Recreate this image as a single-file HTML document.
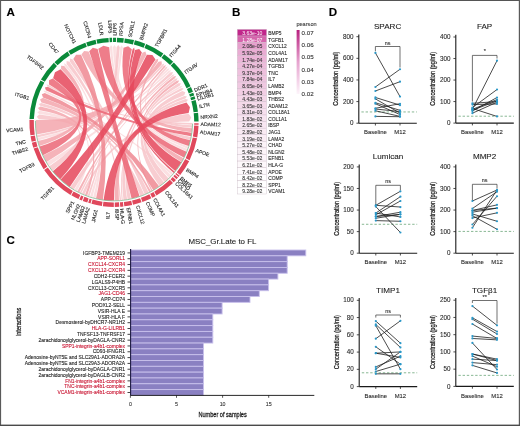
<!DOCTYPE html>
<html><head><meta charset="utf-8"><style>
html,body{margin:0;padding:0;background:#fff;}
#wrap{position:relative;width:520px;height:426px;overflow:hidden;}
svg{position:absolute;left:0;top:0;font-family:"Liberation Sans", sans-serif;filter:blur(0.3px);}
</style></head><body><div id="wrap">
<svg width="520" height="426" viewBox="0 0 520 426">
<rect x="0" y="0" width="520" height="426" fill="#fff"/>
<g font-weight="bold" font-size="11.6" fill="#000">
<text x="6.4" y="15.8" stroke="#000" stroke-width="0.1">A</text><text x="232" y="15.8" stroke="#000" stroke-width="0.1">B</text><text x="6.6" y="243.8" stroke="#000" stroke-width="0.1">C</text><text x="328.8" y="15.8" stroke="#000" stroke-width="0.1">D</text></g>
<g>
<path d="M48.90,165.80 A78.3,78.3 0 0 1 46.71,162.33 Q114.0,122.3 168.75,70.75 L171.01,69.95 L170.02,72.13 Q114.0,122.3 48.90,165.80 Z" fill="#fadadd" fill-opacity="0.85"/><path d="M187.58,149.08 A78.3,78.3 0 0 1 186.75,151.26 Q114.0,122.3 109.87,47.21 L111.03,44.96 L112.36,47.12 Q114.0,122.3 187.58,149.08 Z" fill="#fadadd" fill-opacity="0.85"/><path d="M188.49,146.43 A78.3,78.3 0 0 1 187.74,148.63 Q114.0,122.3 113.02,47.11 L114.47,44.90 L115.90,47.12 Q114.0,122.3 188.49,146.43 Z" fill="#fadadd" fill-opacity="0.85"/><path d="M173.32,173.41 A78.3,78.3 0 0 1 171.87,175.05 Q114.0,122.3 44.97,92.47 L43.35,90.68 L45.76,90.70 Q114.0,122.3 173.32,173.41 Z" fill="#fadadd" fill-opacity="0.85"/><path d="M171.40,175.55 A78.3,78.3 0 0 1 169.12,177.91 Q114.0,122.3 179.96,86.18 L182.34,85.97 L180.83,87.83 Q114.0,122.3 171.40,175.55 Z" fill="#fadadd" fill-opacity="0.85"/><path d="M95.55,198.40 A78.3,78.3 0 0 1 93.01,197.73 Q114.0,122.3 64.57,65.63 L63.96,63.25 L66.22,64.23 Q114.0,122.3 95.55,198.40 Z" fill="#fadadd" fill-opacity="0.85"/><path d="M92.35,197.55 A78.3,78.3 0 0 1 90.00,196.83 Q114.0,122.3 120.26,47.36 L121.77,45.29 L122.84,47.62 Q114.0,122.3 92.35,197.55 Z" fill="#fadadd" fill-opacity="0.85"/><path d="M76.87,191.24 A78.3,78.3 0 0 1 74.44,189.87 Q114.0,122.3 39.25,114.04 L37.27,112.14 L39.68,110.83 Q114.0,122.3 76.87,191.24 Z" fill="#fadadd" fill-opacity="0.85"/><path d="M37.82,140.38 A78.3,78.3 0 0 1 37.29,138.01 Q114.0,122.3 167.13,69.08 L169.36,68.21 L168.44,70.42 Q114.0,122.3 37.82,140.38 Z" fill="#fadadd" fill-opacity="0.85"/><path d="M52.53,170.80 A78.3,78.3 0 0 1 49.28,166.37 Q114.0,122.3 38.86,119.35 L36.80,116.76 L39.21,114.50 Q114.0,122.3 52.53,170.80 Z" fill="#f7c4c9" fill-opacity="0.85"/><path d="M73.85,189.52 A78.3,78.3 0 0 1 70.14,187.16 Q114.0,122.3 170.32,72.47 L172.92,72.10 L172.14,74.61 Q114.0,122.3 73.85,189.52 Z" fill="#f7c4c9" fill-opacity="0.85"/><path d="M190.90,137.04 A78.3,78.3 0 0 1 190.30,139.89 Q114.0,122.3 181.04,88.24 L183.54,88.32 L182.07,90.34 Q114.0,122.3 190.90,137.04 Z" fill="#f7c4c9" fill-opacity="0.85"/><path d="M192.24,125.37 A78.3,78.3 0 0 1 192.11,127.75 Q114.0,122.3 165.43,67.44 L167.57,66.44 L166.66,68.62 Q114.0,122.3 192.24,125.37 Z" fill="#f7c4c9" fill-opacity="0.85"/><path d="M192.30,123.05 A78.3,78.3 0 0 1 192.26,124.69 Q114.0,122.3 47.92,86.40 L46.39,84.62 L48.71,84.98 Q114.0,122.3 192.30,123.05 Z" fill="#f7c4c9" fill-opacity="0.85"/><path d="M164.17,182.41 A78.3,78.3 0 0 1 159.43,186.07 Q114.0,122.3 178.20,83.15 L180.88,83.35 L179.73,85.78 Q114.0,122.3 164.17,182.41 Z" fill="#f7c4c9" fill-opacity="0.85"/><path d="M168.64,178.39 A78.3,78.3 0 0 1 164.54,182.11 Q114.0,122.3 182.35,90.94 L185.33,92.24 L184.18,95.29 Q114.0,122.3 168.64,178.39 Z" fill="#f7c4c9" fill-opacity="0.85"/><path d="M148.63,192.53 A78.3,78.3 0 0 1 144.69,194.34 Q114.0,122.3 69.80,61.46 L70.02,58.61 L72.77,59.41 Q114.0,122.3 148.63,192.53 Z" fill="#f7c4c9" fill-opacity="0.85"/><path d="M144.25,194.52 A78.3,78.3 0 0 1 140.20,196.09 Q114.0,122.3 40.57,106.10 L38.79,104.00 L41.33,102.95 Q114.0,122.3 144.25,194.52 Z" fill="#f7c4c9" fill-opacity="0.85"/><path d="M130.88,198.76 A78.3,78.3 0 0 1 127.63,199.40 Q114.0,122.3 184.41,95.90 L186.96,96.46 L185.33,98.50 Q114.0,122.3 130.88,198.76 Z" fill="#f7c4c9" fill-opacity="0.85"/><path d="M127.16,199.49 A78.3,78.3 0 0 1 123.47,200.02 Q114.0,122.3 175.25,78.67 L177.67,78.28 L176.45,80.41 Q114.0,122.3 127.16,199.49 Z" fill="#f7c4c9" fill-opacity="0.85"/><path d="M122.80,200.10 A78.3,78.3 0 0 1 121.62,200.23 Q114.0,122.3 185.54,99.12 L188.06,99.80 L186.34,101.76 Q114.0,122.3 122.80,200.10 Z" fill="#f7c4c9" fill-opacity="0.85"/><path d="M121.14,200.27 A78.3,78.3 0 0 1 119.67,200.39 Q114.0,122.3 66.57,63.94 L66.64,61.08 L69.43,61.73 Q114.0,122.3 121.14,200.27 Z" fill="#f7c4c9" fill-opacity="0.85"/><path d="M89.35,196.62 A78.3,78.3 0 0 1 87.56,196.00 Q114.0,122.3 116.56,47.14 L118.30,45.02 L119.80,47.32 Q114.0,122.3 89.35,196.62 Z" fill="#f7c4c9" fill-opacity="0.85"/><path d="M84.35,194.77 A78.3,78.3 0 0 1 81.84,193.69 Q114.0,122.3 188.71,113.72 L191.25,117.51 L189.20,121.58 Q114.0,122.3 84.35,194.77 Z" fill="#f7c4c9" fill-opacity="0.85"/><path d="M81.22,193.41 A78.3,78.3 0 0 1 79.71,192.69 Q114.0,122.3 172.43,74.96 L174.59,74.14 L173.31,76.06 Q114.0,122.3 81.22,193.41 Z" fill="#f7c4c9" fill-opacity="0.85"/><path d="M37.20,137.54 A78.3,78.3 0 0 1 36.76,135.16 Q114.0,122.3 162.19,64.57 L164.27,63.44 L163.48,65.68 Q114.0,122.3 37.20,137.54 Z" fill="#f7c4c9" fill-opacity="0.85"/><path d="M46.47,161.92 A78.3,78.3 0 0 1 43.12,155.58 Q114.0,122.3 142.47,52.70 L145.37,51.54 L146.46,54.46 Q114.0,122.3 46.47,161.92 Z" fill="#f3a6ad" fill-opacity="0.85"/><path d="M183.61,158.15 A78.3,78.3 0 0 1 181.55,161.90 Q114.0,122.3 155.89,59.85 L158.18,58.74 L157.94,61.27 Q114.0,122.3 183.61,158.15 Z" fill="#f3a6ad" fill-opacity="0.85"/><path d="M192.08,128.23 A78.3,78.3 0 0 1 191.65,132.37 Q114.0,122.3 81.44,54.51 L84.13,50.90 L88.59,51.52 Q114.0,122.3 192.08,128.23 Z" fill="#f3a6ad" fill-opacity="0.85"/><path d="M151.02,191.29 A78.3,78.3 0 0 1 149.24,192.22 Q114.0,122.3 41.45,102.51 L40.03,99.53 L42.88,97.86 Q114.0,122.3 151.02,191.29 Z" fill="#f3a6ad" fill-opacity="0.85"/><path d="M152.62,190.42 A78.3,78.3 0 0 1 151.45,191.07 Q114.0,122.3 176.70,80.79 L179.19,80.58 L177.96,82.76 Q114.0,122.3 152.62,190.42 Z" fill="#f3a6ad" fill-opacity="0.85"/><path d="M118.98,200.44 A78.3,78.3 0 0 1 114.61,200.60 Q114.0,122.3 173.59,76.43 L176.06,76.04 L174.98,78.30 Q114.0,122.3 118.98,200.44 Z" fill="#f3a6ad" fill-opacity="0.85"/><path d="M87.11,195.84 A78.3,78.3 0 0 1 84.99,195.03 Q114.0,122.3 39.75,110.37 L37.92,108.05 L40.47,106.55 Q114.0,122.3 87.11,195.84 Z" fill="#f3a6ad" fill-opacity="0.85"/><path d="M79.28,192.48 A78.3,78.3 0 0 1 77.29,191.46 Q114.0,122.3 163.83,65.98 L165.94,64.92 L165.09,67.12 Q114.0,122.3 79.28,192.48 Z" fill="#f3a6ad" fill-opacity="0.85"/><path d="M39.34,145.91 A78.3,78.3 0 0 1 37.98,141.04 Q114.0,122.3 61.06,68.89 L61.11,65.79 L64.22,65.94 Q114.0,122.3 39.34,145.91 Z" fill="#f3a6ad" fill-opacity="0.85"/><path d="M36.65,134.48 A78.3,78.3 0 0 1 35.74,119.91 Q114.0,122.3 158.47,61.66 L161.52,61.20 L161.83,64.27 Q114.0,122.3 36.65,134.48 Z" fill="#f3a6ad" fill-opacity="0.85"/><path d="M159.04,186.35 A78.3,78.3 0 0 1 153.21,190.08 Q114.0,122.3 43.03,97.43 L41.82,94.35 L44.79,92.89 Q114.0,122.3 159.04,186.35 Z" fill="#ef8892" fill-opacity="0.85"/><path d="M102.90,199.81 A78.3,78.3 0 0 1 96.02,198.51 Q114.0,122.3 73.32,59.05 L76.03,54.85 L81.03,54.71 Q114.0,122.3 102.90,199.81 Z" fill="#ef8892" fill-opacity="0.85"/><path d="M42.92,155.14 A78.3,78.3 0 0 1 39.55,146.56 Q114.0,122.3 49.04,84.42 L49.02,80.25 L52.82,78.57 Q114.0,122.3 42.92,155.14 Z" fill="#eb6676" fill-opacity="0.85"/><path d="M186.57,151.71 A78.3,78.3 0 0 1 183.92,157.54 Q114.0,122.3 98.30,48.76 L103.43,45.63 L109.21,47.25 Q114.0,122.3 186.57,151.71 Z" fill="#eb6676" fill-opacity="0.85"/><path d="M190.19,140.36 A78.3,78.3 0 0 1 188.64,145.97 Q114.0,122.3 123.49,47.70 L128.11,46.20 L131.87,49.26 Q114.0,122.3 190.19,140.36 Z" fill="#eb6676" fill-opacity="0.85"/><path d="M191.59,132.84 A78.3,78.3 0 0 1 191.03,136.37 Q114.0,122.3 45.96,90.28 L44.84,87.54 L47.70,86.80 Q114.0,122.3 191.59,132.84 Z" fill="#eb6676" fill-opacity="0.85"/><path d="M139.56,196.31 A78.3,78.3 0 0 1 131.55,198.61 Q114.0,122.3 89.21,51.30 L92.80,47.86 L97.66,48.90 Q114.0,122.3 139.56,196.31 Z" fill="#eb6676" fill-opacity="0.85"/><path d="M60.26,179.25 A78.3,78.3 0 0 1 52.82,171.17 Q114.0,122.3 53.09,78.20 L54.99,72.21 L60.59,69.36 Q114.0,122.3 60.26,179.25 Z" fill="#e5475b" fill-opacity="0.85"/><path d="M69.75,186.89 A78.3,78.3 0 0 1 60.61,179.57 Q114.0,122.3 146.87,54.66 L152.36,55.08 L155.51,59.59 Q114.0,122.3 69.75,186.89 Z" fill="#e5475b" fill-opacity="0.85"/><path d="M113.93,200.60 A78.3,78.3 0 0 1 103.58,199.90 Q114.0,122.3 186.52,102.39 L189.93,107.27 L188.63,113.07 Q114.0,122.3 113.93,200.60 Z" fill="#e5475b" fill-opacity="0.85"/><path d="M181.31,162.31 A78.3,78.3 0 0 1 175.24,171.10 Q114.0,122.3 135.04,50.10 L139.20,49.12 L141.87,52.45 Q114.0,122.3 181.31,162.31 Z" fill="#e5475b" fill-opacity="0.85"/><path d="M174.81,171.63 A78.3,78.3 0 0 1 173.76,172.89 Q114.0,122.3 132.51,49.41 L134.13,47.56 L134.60,49.98 Q114.0,122.3 174.81,171.63 Z" fill="#e5475b" fill-opacity="0.85"/>
<path d="M29.47,118.88 A84.6,84.6 0 0 1 40.50,80.41 L44.32,82.59 A80.2,80.2 0 0 0 33.87,119.05 Z" fill="#0a8a3a"/>
<path d="M40.97,79.59 A84.6,84.6 0 0 1 53.85,62.81 L56.97,65.91 A80.2,80.2 0 0 0 44.77,81.81 Z" fill="#0a8a3a"/>
<path d="M54.51,62.15 A84.6,84.6 0 0 1 67.53,51.61 L69.94,55.28 A80.2,80.2 0 0 0 57.61,65.27 Z" fill="#0a8a3a"/>
<path d="M68.32,51.09 A84.6,84.6 0 0 1 85.31,42.71 L86.81,46.85 A80.2,80.2 0 0 0 70.70,54.80 Z" fill="#0a8a3a"/>
<path d="M86.21,42.40 A84.6,84.6 0 0 1 95.52,39.74 L96.48,44.04 A80.2,80.2 0 0 0 87.65,46.55 Z" fill="#0a8a3a"/>
<path d="M96.44,39.54 A84.6,84.6 0 0 1 108.51,37.88 L108.80,42.27 A80.2,80.2 0 0 0 97.35,43.85 Z" fill="#0a8a3a"/>
<path d="M109.45,37.82 A84.6,84.6 0 0 1 112.05,37.72 L112.15,42.12 A80.2,80.2 0 0 0 109.69,42.22 Z" fill="#0a8a3a"/>
<path d="M113.00,37.71 A84.6,84.6 0 0 1 116.04,37.72 L115.93,42.12 A80.2,80.2 0 0 0 113.05,42.11 Z" fill="#0a8a3a"/>
<path d="M116.98,37.75 A84.6,84.6 0 0 1 123.84,38.27 L123.33,42.64 A80.2,80.2 0 0 0 116.83,42.15 Z" fill="#0a8a3a"/>
<path d="M124.78,38.39 A84.6,84.6 0 0 1 134.01,40.10 L132.97,44.38 A80.2,80.2 0 0 0 124.22,42.75 Z" fill="#0a8a3a"/>
<path d="M134.92,40.33 A84.6,84.6 0 0 1 145.25,43.68 L143.63,47.77 A80.2,80.2 0 0 0 133.84,44.59 Z" fill="#0a8a3a"/>
<path d="M146.13,44.04 A84.6,84.6 0 0 1 163.34,53.58 L160.78,57.15 A80.2,80.2 0 0 0 144.46,48.11 Z" fill="#0a8a3a"/>
<path d="M164.11,54.14 A84.6,84.6 0 0 1 173.17,61.83 L170.09,64.98 A80.2,80.2 0 0 0 161.50,57.68 Z" fill="#0a8a3a"/>
<path d="M173.84,62.50 A84.6,84.6 0 0 1 190.54,86.25 L186.56,88.13 A80.2,80.2 0 0 0 170.73,65.61 Z" fill="#0a8a3a"/>
<path d="M190.93,87.11 A84.6,84.6 0 0 1 192.92,91.82 L188.81,93.40 A80.2,80.2 0 0 0 186.93,88.94 Z" fill="#0a8a3a"/>
<path d="M193.25,92.70 A84.6,84.6 0 0 1 194.22,95.43 L190.05,96.83 A80.2,80.2 0 0 0 189.13,94.24 Z" fill="#0a8a3a"/>
<path d="M194.51,96.33 A84.6,84.6 0 0 1 195.36,99.09 L191.12,100.30 A80.2,80.2 0 0 0 190.33,97.68 Z" fill="#0a8a3a"/>
<path d="M195.61,100.00 A84.6,84.6 0 0 1 197.95,111.81 L193.58,112.36 A80.2,80.2 0 0 0 191.36,101.16 Z" fill="#0a8a3a"/>
<path d="M198.06,112.75 A84.6,84.6 0 0 1 198.60,121.38 L194.20,121.43 A80.2,80.2 0 0 0 193.69,113.25 Z" fill="#0a8a3a"/>
<path d="M198.60,123.22 A84.6,84.6 0 0 1 198.56,124.78 L194.17,124.65 A80.2,80.2 0 0 0 194.20,123.17 Z" fill="#e0485c"/>
<path d="M198.53,125.72 A84.6,84.6 0 0 1 197.24,137.40 L192.91,136.61 A80.2,80.2 0 0 0 194.13,125.55 Z" fill="#e0485c"/>
<path d="M197.07,138.33 A84.6,84.6 0 0 1 189.59,160.29 L185.66,158.31 A80.2,80.2 0 0 0 192.75,137.49 Z" fill="#e0485c"/>
<path d="M189.16,161.13 A84.6,84.6 0 0 1 180.23,174.94 L176.78,172.20 A80.2,80.2 0 0 0 185.25,159.11 Z" fill="#e0485c"/>
<path d="M179.63,175.68 A84.6,84.6 0 0 1 178.64,176.88 L175.27,174.04 A80.2,80.2 0 0 0 176.22,172.90 Z" fill="#e0485c"/>
<path d="M178.02,177.60 A84.6,84.6 0 0 1 176.59,179.22 L173.34,176.25 A80.2,80.2 0 0 0 174.69,174.73 Z" fill="#e0485c"/>
<path d="M175.95,179.91 A84.6,84.6 0 0 1 173.63,182.31 L170.53,179.19 A80.2,80.2 0 0 0 172.73,176.91 Z" fill="#e0485c"/>
<path d="M172.96,182.97 A84.6,84.6 0 0 1 156.45,195.48 L154.25,191.67 A80.2,80.2 0 0 0 169.89,179.82 Z" fill="#e0485c"/>
<path d="M155.63,195.95 A84.6,84.6 0 0 1 152.17,197.80 L150.19,193.87 A80.2,80.2 0 0 0 153.47,192.12 Z" fill="#e0485c"/>
<path d="M151.32,198.22 A84.6,84.6 0 0 1 142.41,201.99 L140.93,197.84 A80.2,80.2 0 0 0 149.38,194.27 Z" fill="#e0485c"/>
<path d="M141.52,202.30 A84.6,84.6 0 0 1 133.06,204.73 L132.07,200.44 A80.2,80.2 0 0 0 140.08,198.14 Z" fill="#e0485c"/>
<path d="M132.14,204.93 A84.6,84.6 0 0 1 124.34,206.27 L123.80,201.90 A80.2,80.2 0 0 0 131.19,200.64 Z" fill="#e0485c"/>
<path d="M123.40,206.38 A84.6,84.6 0 0 1 120.23,206.67 L119.90,202.28 A80.2,80.2 0 0 0 122.91,202.00 Z" fill="#e0485c"/>
<path d="M119.28,206.73 A84.6,84.6 0 0 1 114.77,206.90 L114.73,202.50 A80.2,80.2 0 0 0 119.01,202.34 Z" fill="#e0485c"/>
<path d="M113.82,206.90 A84.6,84.6 0 0 1 102.84,206.16 L103.42,201.80 A80.2,80.2 0 0 0 113.83,202.50 Z" fill="#e0485c"/>
<path d="M101.90,206.03 A84.6,84.6 0 0 1 91.42,203.83 L92.59,199.59 A80.2,80.2 0 0 0 102.53,201.68 Z" fill="#e0485c"/>
<path d="M90.51,203.57 A84.6,84.6 0 0 1 88.17,202.86 L89.51,198.67 A80.2,80.2 0 0 0 91.73,199.35 Z" fill="#e0485c"/>
<path d="M87.27,202.57 A84.6,84.6 0 0 1 82.75,200.92 L84.37,196.83 A80.2,80.2 0 0 0 88.66,198.39 Z" fill="#e0485c"/>
<path d="M81.87,200.56 A84.6,84.6 0 0 1 79.35,199.48 L81.15,195.46 A80.2,80.2 0 0 0 83.54,196.49 Z" fill="#e0485c"/>
<path d="M78.49,199.09 A84.6,84.6 0 0 1 71.34,195.36 L73.56,191.56 A80.2,80.2 0 0 0 80.33,195.09 Z" fill="#e0485c"/>
<path d="M70.53,194.88 A84.6,84.6 0 0 1 44.13,170.00 L47.76,167.52 A80.2,80.2 0 0 0 72.79,191.10 Z" fill="#e0485c"/>
<path d="M43.60,169.22 A84.6,84.6 0 0 1 33.60,148.61 L37.78,147.24 A80.2,80.2 0 0 0 47.26,166.78 Z" fill="#e0485c"/>
<path d="M33.31,147.71 A84.6,84.6 0 0 1 31.88,142.65 L36.16,141.59 A80.2,80.2 0 0 0 37.50,146.39 Z" fill="#e0485c"/>
<path d="M31.66,141.73 A84.6,84.6 0 0 1 30.57,136.29 L34.90,135.56 A80.2,80.2 0 0 0 35.94,140.72 Z" fill="#e0485c"/>
<path d="M30.41,135.36 A84.6,84.6 0 0 1 29.44,119.82 L33.83,119.95 A80.2,80.2 0 0 0 34.76,134.68 Z" fill="#e0485c"/>
<path d="M192.59,123.67 A78.60000000000001,78.60000000000001 0 0 1 35.41,120.93" fill="none" stroke="#3a9a5a" stroke-width="0.5"/>
<text x="29.31" y="98.02" transform="rotate(-344.0 29.31 98.02)" font-size="5.1" text-anchor="end" dominant-baseline="central" fill="#1a1a1a" stroke="#1a1a1a" stroke-width="0.1">ITGB1</text>
<text x="43.31" y="68.06" transform="rotate(-322.5 43.31 68.06)" font-size="5.1" text-anchor="end" dominant-baseline="central" fill="#1a1a1a" stroke="#1a1a1a" stroke-width="0.1">TGFBR2</text>
<text x="57.93" y="53.06" transform="rotate(-309.0 57.93 53.06)" font-size="5.1" text-anchor="end" dominant-baseline="central" fill="#1a1a1a" stroke="#1a1a1a" stroke-width="0.1">CD47</text>
<text x="75.03" y="43.29" transform="rotate(-296.2 75.03 43.29)" font-size="5.1" text-anchor="end" dominant-baseline="central" fill="#1a1a1a" stroke="#1a1a1a" stroke-width="0.1">NOTCH1</text>
<text x="89.95" y="37.86" transform="rotate(-285.9 89.95 37.86)" font-size="5.1" text-anchor="end" dominant-baseline="central" fill="#1a1a1a" stroke="#1a1a1a" stroke-width="0.1">CXCR4</text>
<text x="102.01" y="35.32" transform="rotate(-277.9 102.01 35.32)" font-size="5.1" text-anchor="end" dominant-baseline="central" fill="#1a1a1a" stroke="#1a1a1a" stroke-width="0.1">LDLR</text>
<text x="110.58" y="33.27" transform="rotate(-272.2 110.58 33.27)" font-size="5.1" text-anchor="end" dominant-baseline="central" fill="#1a1a1a" stroke="#1a1a1a" stroke-width="0.1">LRP5</text>
<text x="114.53" y="35.70" transform="rotate(-89.7 114.53 35.70)" font-size="5.1" dominant-baseline="central" fill="#1a1a1a" stroke="#1a1a1a" stroke-width="0.1">LRP6</text>
<text x="120.57" y="35.95" transform="rotate(-85.7 120.57 35.95)" font-size="5.1" dominant-baseline="central" fill="#1a1a1a" stroke="#1a1a1a" stroke-width="0.1">RPSA</text>
<text x="129.78" y="37.15" transform="rotate(-79.5 129.78 37.15)" font-size="5.1" dominant-baseline="central" fill="#1a1a1a" stroke="#1a1a1a" stroke-width="0.1">SORL1</text>
<text x="140.76" y="39.94" transform="rotate(-72.0 140.76 39.94)" font-size="5.1" dominant-baseline="central" fill="#1a1a1a" stroke="#1a1a1a" stroke-width="0.1">BMPR2</text>
<text x="155.98" y="46.56" transform="rotate(-61.0 155.98 46.56)" font-size="5.1" dominant-baseline="central" fill="#1a1a1a" stroke="#1a1a1a" stroke-width="0.1">TGFBR1</text>
<text x="170.07" y="56.30" transform="rotate(-49.6 170.07 56.30)" font-size="5.1" dominant-baseline="central" fill="#1a1a1a" stroke="#1a1a1a" stroke-width="0.1">ITGA4</text>
<text x="184.85" y="72.50" transform="rotate(-35.1 184.85 72.50)" font-size="5.1" dominant-baseline="central" fill="#1a1a1a" stroke="#1a1a1a" stroke-width="0.1">ITGAV</text>
<text x="194.38" y="90.07" transform="rotate(-21.9 194.38 90.07)" font-size="5.1" dominant-baseline="central" fill="#1a1a1a" stroke="#1a1a1a" stroke-width="0.1">DDR1</text>
<text x="196.22" y="95.11" transform="rotate(-18.3 196.22 95.11)" font-size="5.1" dominant-baseline="central" fill="#1a1a1a" stroke="#1a1a1a" stroke-width="0.1">EPHB4</text>
<text x="197.29" y="98.58" transform="rotate(-15.9 197.29 98.58)" font-size="5.1" dominant-baseline="central" fill="#1a1a1a" stroke="#1a1a1a" stroke-width="0.1">LILRB1</text>
<text x="199.09" y="106.22" transform="rotate(-10.7 199.09 106.22)" font-size="5.1" dominant-baseline="central" fill="#1a1a1a" stroke="#1a1a1a" stroke-width="0.1">IL7R</text>
<text x="200.43" y="116.94" transform="rotate(-3.5 200.43 116.94)" font-size="5.1" dominant-baseline="central" fill="#1a1a1a" stroke="#1a1a1a" stroke-width="0.1">NRXN2</text>
<text x="200.58" y="124.04" transform="rotate(1.1 200.58 124.04)" font-size="5.1" dominant-baseline="central" fill="#1a1a1a" stroke="#1a1a1a" stroke-width="0.1">ADAM12</text>
<text x="200.08" y="131.80" transform="rotate(6.3 200.08 131.80)" font-size="5.1" dominant-baseline="central" fill="#1a1a1a" stroke="#1a1a1a" stroke-width="0.1">ADAM17</text>
<text x="195.98" y="150.21" transform="rotate(18.8 195.98 150.21)" font-size="5.1" dominant-baseline="central" fill="#1a1a1a" stroke="#1a1a1a" stroke-width="0.1">APOE</text>
<text x="186.71" y="169.34" transform="rotate(32.9 186.71 169.34)" font-size="5.1" dominant-baseline="central" fill="#1a1a1a" stroke="#1a1a1a" stroke-width="0.1">BMP4</text>
<text x="180.68" y="177.56" transform="rotate(39.6 180.68 177.56)" font-size="5.1" dominant-baseline="central" fill="#1a1a1a" stroke="#1a1a1a" stroke-width="0.1">BMP5</text>
<text x="178.81" y="179.74" transform="rotate(41.5 178.81 179.74)" font-size="5.1" dominant-baseline="central" fill="#1a1a1a" stroke="#1a1a1a" stroke-width="0.1">CHAD</text>
<text x="176.24" y="182.51" transform="rotate(44.0 176.24 182.51)" font-size="5.1" dominant-baseline="central" fill="#1a1a1a" stroke="#1a1a1a" stroke-width="0.1">COL18A1</text>
<text x="166.30" y="191.33" transform="rotate(52.9 166.30 191.33)" font-size="5.1" dominant-baseline="central" fill="#1a1a1a" stroke="#1a1a1a" stroke-width="0.1">COL1A1</text>
<text x="154.86" y="198.66" transform="rotate(61.9 154.86 198.66)" font-size="5.1" dominant-baseline="central" fill="#1a1a1a" stroke="#1a1a1a" stroke-width="0.1">COL4A1</text>
<text x="147.70" y="202.07" transform="rotate(67.1 147.70 202.07)" font-size="5.1" dominant-baseline="central" fill="#1a1a1a" stroke="#1a1a1a" stroke-width="0.1">COMP</text>
<text x="137.87" y="205.55" transform="rotate(74.0 137.87 205.55)" font-size="5.1" dominant-baseline="central" fill="#1a1a1a" stroke="#1a1a1a" stroke-width="0.1">CXCL12</text>
<text x="128.59" y="207.66" transform="rotate(80.3 128.59 207.66)" font-size="5.1" dominant-baseline="central" fill="#1a1a1a" stroke="#1a1a1a" stroke-width="0.1">EFNB1</text>
<text x="122.00" y="208.53" transform="rotate(84.7 122.00 208.53)" font-size="5.1" dominant-baseline="central" fill="#1a1a1a" stroke="#1a1a1a" stroke-width="0.1">HLA-G</text>
<text x="117.10" y="208.84" transform="rotate(87.9 117.10 208.84)" font-size="5.1" dominant-baseline="central" fill="#1a1a1a" stroke="#1a1a1a" stroke-width="0.1">IBSP</text>
<text x="107.96" y="212.00" transform="rotate(-86.2 107.96 212.00)" font-size="5.1" text-anchor="end" dominant-baseline="central" fill="#1a1a1a" stroke="#1a1a1a" stroke-width="0.1">IL7</text>
<text x="95.70" y="209.50" transform="rotate(-78.2 95.70 209.50)" font-size="5.1" text-anchor="end" dominant-baseline="central" fill="#1a1a1a" stroke="#1a1a1a" stroke-width="0.1">JAG1</text>
<text x="88.02" y="207.53" transform="rotate(-73.1 88.02 207.53)" font-size="5.1" text-anchor="end" dominant-baseline="central" fill="#1a1a1a" stroke="#1a1a1a" stroke-width="0.1">LAMA2</text>
<text x="83.45" y="206.00" transform="rotate(-70.0 83.45 206.00)" font-size="5.1" text-anchor="end" dominant-baseline="central" fill="#1a1a1a" stroke="#1a1a1a" stroke-width="0.1">LAMB2</text>
<text x="78.83" y="204.16" transform="rotate(-66.8 78.83 204.16)" font-size="5.1" text-anchor="end" dominant-baseline="central" fill="#1a1a1a" stroke="#1a1a1a" stroke-width="0.1">NLGN2</text>
<text x="72.79" y="201.30" transform="rotate(-62.5 72.79 201.30)" font-size="5.1" text-anchor="end" dominant-baseline="central" fill="#1a1a1a" stroke="#1a1a1a" stroke-width="0.1">SPP1</text>
<text x="52.89" y="187.14" transform="rotate(-46.7 52.89 187.14)" font-size="5.1" text-anchor="end" dominant-baseline="central" fill="#1a1a1a" stroke="#1a1a1a" stroke-width="0.1">TGFB1</text>
<text x="34.19" y="163.67" transform="rotate(-27.4 34.19 163.67)" font-size="5.1" text-anchor="end" dominant-baseline="central" fill="#1a1a1a" stroke="#1a1a1a" stroke-width="0.1">TGFB3</text>
<text x="27.79" y="148.49" transform="rotate(-16.9 27.79 148.49)" font-size="5.1" text-anchor="end" dominant-baseline="central" fill="#1a1a1a" stroke="#1a1a1a" stroke-width="0.1">THBS2</text>
<text x="25.74" y="141.38" transform="rotate(-12.2 25.74 141.38)" font-size="5.1" text-anchor="end" dominant-baseline="central" fill="#1a1a1a" stroke="#1a1a1a" stroke-width="0.1">TNC</text>
<text x="23.54" y="128.94" transform="rotate(-4.2 23.54 128.94)" font-size="5.1" text-anchor="end" dominant-baseline="central" fill="#1a1a1a" stroke="#1a1a1a" stroke-width="0.1">VCAM1</text>
</g>
<rect x="237.3" y="29.40" width="29.30" height="6.58" fill="#c1268b" stroke="#cbbcc7" stroke-width="0.4"/>
<text x="262.3" y="35.29" font-size="5.1" text-anchor="end" fill="#fff">3.63e-10</text>
<text x="268.2" y="35.29" font-size="4.9" fill="#2a2a2a" stroke="#2a2a2a" stroke-width="0.1">BMP5</text>
<rect x="237.3" y="35.98" width="29.30" height="6.58" fill="#d565ac" stroke="#cbbcc7" stroke-width="0.4"/>
<text x="262.3" y="41.88" font-size="5.1" text-anchor="end" fill="#fff">1.28e-07</text>
<text x="268.2" y="41.88" font-size="4.9" fill="#2a2a2a" stroke="#2a2a2a" stroke-width="0.1">TGFB1</text>
<rect x="237.3" y="42.57" width="29.30" height="6.58" fill="#e6a0cd" stroke="#cbbcc7" stroke-width="0.4"/>
<text x="262.3" y="48.46" font-size="5.1" text-anchor="end" fill="#3a3a3a" stroke="#3a3a3a" stroke-width="0.1">2.08e-05</text>
<text x="268.2" y="48.46" font-size="4.9" fill="#2a2a2a" stroke="#2a2a2a" stroke-width="0.1">CXCL12</text>
<rect x="237.3" y="49.15" width="29.30" height="6.58" fill="#e9acd3" stroke="#cbbcc7" stroke-width="0.4"/>
<text x="262.3" y="55.04" font-size="5.1" text-anchor="end" fill="#3a3a3a" stroke="#3a3a3a" stroke-width="0.1">5.92e-05</text>
<text x="268.2" y="55.04" font-size="4.9" fill="#2a2a2a" stroke="#2a2a2a" stroke-width="0.1">COL4A1</text>
<rect x="237.3" y="55.74" width="29.30" height="6.58" fill="#ebb4d7" stroke="#cbbcc7" stroke-width="0.4"/>
<text x="262.3" y="61.63" font-size="5.1" text-anchor="end" fill="#3a3a3a" stroke="#3a3a3a" stroke-width="0.1">1.74e-04</text>
<text x="268.2" y="61.63" font-size="4.9" fill="#2a2a2a" stroke="#2a2a2a" stroke-width="0.1">ADAM17</text>
<rect x="237.3" y="62.32" width="29.30" height="6.58" fill="#edbcdb" stroke="#cbbcc7" stroke-width="0.4"/>
<text x="262.3" y="68.21" font-size="5.1" text-anchor="end" fill="#3a3a3a" stroke="#3a3a3a" stroke-width="0.1">4.27e-04</text>
<text x="268.2" y="68.21" font-size="4.9" fill="#2a2a2a" stroke="#2a2a2a" stroke-width="0.1">TGFB3</text>
<rect x="237.3" y="68.90" width="29.30" height="6.58" fill="#eec0dd" stroke="#cbbcc7" stroke-width="0.4"/>
<text x="262.3" y="74.80" font-size="5.1" text-anchor="end" fill="#3a3a3a" stroke="#3a3a3a" stroke-width="0.1">9.37e-04</text>
<text x="268.2" y="74.80" font-size="4.9" fill="#2a2a2a" stroke="#2a2a2a" stroke-width="0.1">TNC</text>
<rect x="237.3" y="75.49" width="29.30" height="6.58" fill="#efc4df" stroke="#cbbcc7" stroke-width="0.4"/>
<text x="262.3" y="81.38" font-size="5.1" text-anchor="end" fill="#3a3a3a" stroke="#3a3a3a" stroke-width="0.1">7.84e-04</text>
<text x="268.2" y="81.38" font-size="4.9" fill="#2a2a2a" stroke="#2a2a2a" stroke-width="0.1">IL7</text>
<rect x="237.3" y="82.07" width="29.30" height="6.58" fill="#f0c8e1" stroke="#cbbcc7" stroke-width="0.4"/>
<text x="262.3" y="87.96" font-size="5.1" text-anchor="end" fill="#3a3a3a" stroke="#3a3a3a" stroke-width="0.1">8.65e-04</text>
<text x="268.2" y="87.96" font-size="4.9" fill="#2a2a2a" stroke="#2a2a2a" stroke-width="0.1">LAMB2</text>
<rect x="237.3" y="88.66" width="29.30" height="6.58" fill="#f2cee4" stroke="#cbbcc7" stroke-width="0.4"/>
<text x="262.3" y="94.55" font-size="5.1" text-anchor="end" fill="#3a3a3a" stroke="#3a3a3a" stroke-width="0.1">1.43e-03</text>
<text x="268.2" y="94.55" font-size="4.9" fill="#2a2a2a" stroke="#2a2a2a" stroke-width="0.1">BMP4</text>
<rect x="237.3" y="95.24" width="29.30" height="6.58" fill="#f4d6e8" stroke="#cbbcc7" stroke-width="0.4"/>
<text x="262.3" y="101.13" font-size="5.1" text-anchor="end" fill="#3a3a3a" stroke="#3a3a3a" stroke-width="0.1">4.43e-03</text>
<text x="268.2" y="101.13" font-size="4.9" fill="#2a2a2a" stroke="#2a2a2a" stroke-width="0.1">THBS2</text>
<rect x="237.3" y="101.82" width="29.30" height="6.58" fill="#f5daea" stroke="#cbbcc7" stroke-width="0.4"/>
<text x="262.3" y="107.72" font-size="5.1" text-anchor="end" fill="#3a3a3a" stroke="#3a3a3a" stroke-width="0.1">3.65e-03</text>
<text x="268.2" y="107.72" font-size="4.9" fill="#2a2a2a" stroke="#2a2a2a" stroke-width="0.1">ADAM12</text>
<rect x="237.3" y="108.41" width="29.30" height="6.58" fill="#f6dfee" stroke="#cbbcc7" stroke-width="0.4"/>
<text x="262.3" y="114.30" font-size="5.1" text-anchor="end" fill="#3a3a3a" stroke="#3a3a3a" stroke-width="0.1">8.31e-03</text>
<text x="268.2" y="114.30" font-size="4.9" fill="#2a2a2a" stroke="#2a2a2a" stroke-width="0.1">COL18A1</text>
<rect x="237.3" y="114.99" width="29.30" height="6.58" fill="#f7e4f0" stroke="#cbbcc7" stroke-width="0.4"/>
<text x="262.3" y="120.88" font-size="5.1" text-anchor="end" fill="#3a3a3a" stroke="#3a3a3a" stroke-width="0.1">1.83e-02</text>
<text x="268.2" y="120.88" font-size="4.9" fill="#2a2a2a" stroke="#2a2a2a" stroke-width="0.1">COL1A1</text>
<rect x="237.3" y="121.58" width="29.30" height="6.58" fill="#f8e7f2" stroke="#cbbcc7" stroke-width="0.4"/>
<text x="262.3" y="127.47" font-size="5.1" text-anchor="end" fill="#3a3a3a" stroke="#3a3a3a" stroke-width="0.1">2.65e-02</text>
<text x="268.2" y="127.47" font-size="4.9" fill="#2a2a2a" stroke="#2a2a2a" stroke-width="0.1">IBSP</text>
<rect x="237.3" y="128.16" width="29.30" height="6.58" fill="#f9eaf3" stroke="#cbbcc7" stroke-width="0.4"/>
<text x="262.3" y="134.05" font-size="5.1" text-anchor="end" fill="#3a3a3a" stroke="#3a3a3a" stroke-width="0.1">2.89e-02</text>
<text x="268.2" y="134.05" font-size="4.9" fill="#2a2a2a" stroke="#2a2a2a" stroke-width="0.1">JAG1</text>
<rect x="237.3" y="134.74" width="29.30" height="6.58" fill="#faedf5" stroke="#cbbcc7" stroke-width="0.4"/>
<text x="262.3" y="140.64" font-size="5.1" text-anchor="end" fill="#3a3a3a" stroke="#3a3a3a" stroke-width="0.1">3.19e-02</text>
<text x="268.2" y="140.64" font-size="4.9" fill="#2a2a2a" stroke="#2a2a2a" stroke-width="0.1">LAMA2</text>
<rect x="237.3" y="141.33" width="29.30" height="6.58" fill="#fbf3f8" stroke="#cbbcc7" stroke-width="0.4"/>
<text x="262.3" y="147.22" font-size="5.1" text-anchor="end" fill="#3a3a3a" stroke="#3a3a3a" stroke-width="0.1">5.27e-02</text>
<text x="268.2" y="147.22" font-size="4.9" fill="#2a2a2a" stroke="#2a2a2a" stroke-width="0.1">CHAD</text>
<rect x="237.3" y="147.91" width="29.30" height="6.58" fill="#fcf4f9" stroke="#cbbcc7" stroke-width="0.4"/>
<text x="262.3" y="153.80" font-size="5.1" text-anchor="end" fill="#3a3a3a" stroke="#3a3a3a" stroke-width="0.1">5.48e-02</text>
<text x="268.2" y="153.80" font-size="4.9" fill="#2a2a2a" stroke="#2a2a2a" stroke-width="0.1">NLGN2</text>
<rect x="237.3" y="154.50" width="29.30" height="6.58" fill="#fcf5fa" stroke="#cbbcc7" stroke-width="0.4"/>
<text x="262.3" y="160.39" font-size="5.1" text-anchor="end" fill="#3a3a3a" stroke="#3a3a3a" stroke-width="0.1">5.53e-02</text>
<text x="268.2" y="160.39" font-size="4.9" fill="#2a2a2a" stroke="#2a2a2a" stroke-width="0.1">EFNB1</text>
<rect x="237.3" y="161.08" width="29.30" height="6.58" fill="#fdf8fb" stroke="#cbbcc7" stroke-width="0.4"/>
<text x="262.3" y="166.97" font-size="5.1" text-anchor="end" fill="#3a3a3a" stroke="#3a3a3a" stroke-width="0.1">6.21e-02</text>
<text x="268.2" y="166.97" font-size="4.9" fill="#2a2a2a" stroke="#2a2a2a" stroke-width="0.1">HLA-G</text>
<rect x="237.3" y="167.66" width="29.30" height="6.58" fill="#fefbfd" stroke="#cbbcc7" stroke-width="0.4"/>
<text x="262.3" y="173.56" font-size="5.1" text-anchor="end" fill="#3a3a3a" stroke="#3a3a3a" stroke-width="0.1">7.41e-02</text>
<text x="268.2" y="173.56" font-size="4.9" fill="#2a2a2a" stroke="#2a2a2a" stroke-width="0.1">APOE</text>
<rect x="237.3" y="174.25" width="29.30" height="6.58" fill="#fff" stroke="#cbbcc7" stroke-width="0.4"/>
<text x="262.3" y="180.14" font-size="5.1" text-anchor="end" fill="#3a3a3a" stroke="#3a3a3a" stroke-width="0.1">8.42e-02</text>
<text x="268.2" y="180.14" font-size="4.9" fill="#2a2a2a" stroke="#2a2a2a" stroke-width="0.1">COMP</text>
<rect x="237.3" y="180.83" width="29.30" height="6.58" fill="#fff" stroke="#cbbcc7" stroke-width="0.4"/>
<text x="262.3" y="186.72" font-size="5.1" text-anchor="end" fill="#3a3a3a" stroke="#3a3a3a" stroke-width="0.1">8.22e-02</text>
<text x="268.2" y="186.72" font-size="4.9" fill="#2a2a2a" stroke="#2a2a2a" stroke-width="0.1">SPP1</text>
<rect x="237.3" y="187.42" width="29.30" height="6.58" fill="#fff" stroke="#cbbcc7" stroke-width="0.4"/>
<text x="262.3" y="193.31" font-size="5.1" text-anchor="end" fill="#3a3a3a" stroke="#3a3a3a" stroke-width="0.1">9.28e-02</text>
<text x="268.2" y="193.31" font-size="4.9" fill="#2a2a2a" stroke="#2a2a2a" stroke-width="0.1">VCAM1</text>
<defs><linearGradient id="pg" x1="0" y1="0" x2="0" y2="1"><stop offset="0" stop-color="#b8207f"/><stop offset="0.5" stop-color="#e6a4cf"/><stop offset="1" stop-color="#fdf4fa"/></linearGradient></defs>
<rect x="296.6" y="30" width="3" height="64" fill="url(#pg)"/>
<text x="296.4" y="26.3" font-size="5.6" fill="#3a3a3a" stroke="#3a3a3a" stroke-width="0.1">pearson</text>
<text x="301.6" y="34.80" font-size="6.2" fill="#333" stroke="#333" stroke-width="0.1">0.07</text>
<text x="301.6" y="47.10" font-size="6.2" fill="#333" stroke="#333" stroke-width="0.1">0.06</text>
<text x="301.6" y="59.40" font-size="6.2" fill="#333" stroke="#333" stroke-width="0.1">0.05</text>
<text x="301.6" y="71.70" font-size="6.2" fill="#333" stroke="#333" stroke-width="0.1">0.04</text>
<text x="301.6" y="84.00" font-size="6.2" fill="#333" stroke="#333" stroke-width="0.1">0.03</text>
<text x="301.6" y="96.30" font-size="6.2" fill="#333" stroke="#333" stroke-width="0.1">0.02</text>
<rect x="130.6" y="250.0" width="173.66" height="145.39999999999998" fill="#fff"/>
<rect x="130.6" y="250.00" width="175.20" height="5.82" fill="#8a80c2" stroke="#c8c0ec" stroke-width="0.9"/>
<text x="125" y="254.61" font-size="4.95" text-anchor="end" fill="#222" stroke="#222" stroke-width="0.1">IGFBP3-TMEM219</text>
<line x1="127.5" y1="252.91" x2="130.6" y2="252.91" stroke="#222" stroke-width="0.85"/>
<rect x="130.6" y="255.82" width="156.60" height="5.82" fill="#8a80c2" stroke="#c8c0ec" stroke-width="0.9"/>
<text x="125" y="260.42" font-size="4.95" text-anchor="end" fill="#c8102e" stroke="#c8102e" stroke-width="0.1">APP-SORL1</text>
<line x1="127.5" y1="258.72" x2="130.6" y2="258.72" stroke="#222" stroke-width="0.85"/>
<rect x="130.6" y="261.63" width="156.60" height="5.82" fill="#8a80c2" stroke="#c8c0ec" stroke-width="0.9"/>
<text x="125" y="266.24" font-size="4.95" text-anchor="end" fill="#c8102e" stroke="#c8102e" stroke-width="0.1">CXCL14-CXCR4</text>
<line x1="127.5" y1="264.54" x2="130.6" y2="264.54" stroke="#222" stroke-width="0.85"/>
<rect x="130.6" y="267.45" width="156.60" height="5.82" fill="#8a80c2" stroke="#c8c0ec" stroke-width="0.9"/>
<text x="125" y="272.06" font-size="4.95" text-anchor="end" fill="#c8102e" stroke="#c8102e" stroke-width="0.1">CXCL12-CXCR4</text>
<line x1="127.5" y1="270.36" x2="130.6" y2="270.36" stroke="#222" stroke-width="0.85"/>
<rect x="130.6" y="273.26" width="147.30" height="5.82" fill="#8a80c2" stroke="#c8c0ec" stroke-width="0.9"/>
<text x="125" y="277.87" font-size="4.95" text-anchor="end" fill="#222" stroke="#222" stroke-width="0.1">CDH2-FCER2</text>
<line x1="127.5" y1="276.17" x2="130.6" y2="276.17" stroke="#222" stroke-width="0.85"/>
<rect x="130.6" y="279.08" width="138.00" height="5.82" fill="#8a80c2" stroke="#c8c0ec" stroke-width="0.9"/>
<text x="125" y="283.69" font-size="4.95" text-anchor="end" fill="#222" stroke="#222" stroke-width="0.1">LGALS9-P4HB</text>
<line x1="127.5" y1="281.99" x2="130.6" y2="281.99" stroke="#222" stroke-width="0.85"/>
<rect x="130.6" y="284.90" width="138.00" height="5.82" fill="#8a80c2" stroke="#c8c0ec" stroke-width="0.9"/>
<text x="125" y="289.50" font-size="4.95" text-anchor="end" fill="#222" stroke="#222" stroke-width="0.1">CXCL13-CXCR5</text>
<line x1="127.5" y1="287.80" x2="130.6" y2="287.80" stroke="#222" stroke-width="0.85"/>
<rect x="130.6" y="290.71" width="128.70" height="5.82" fill="#8a80c2" stroke="#c8c0ec" stroke-width="0.9"/>
<text x="125" y="295.32" font-size="4.95" text-anchor="end" fill="#c8102e" stroke="#c8102e" stroke-width="0.1">JAG1-CD46</text>
<line x1="127.5" y1="293.62" x2="130.6" y2="293.62" stroke="#222" stroke-width="0.85"/>
<rect x="130.6" y="296.53" width="119.40" height="5.82" fill="#8a80c2" stroke="#c8c0ec" stroke-width="0.9"/>
<text x="125" y="301.14" font-size="4.95" text-anchor="end" fill="#222" stroke="#222" stroke-width="0.1">APP-CD74</text>
<line x1="127.5" y1="299.44" x2="130.6" y2="299.44" stroke="#222" stroke-width="0.85"/>
<rect x="130.6" y="302.34" width="91.50" height="5.82" fill="#8a80c2" stroke="#c8c0ec" stroke-width="0.9"/>
<text x="125" y="306.95" font-size="4.95" text-anchor="end" fill="#222" stroke="#222" stroke-width="0.1">PODXL2-SELL</text>
<line x1="127.5" y1="305.25" x2="130.6" y2="305.25" stroke="#222" stroke-width="0.85"/>
<rect x="130.6" y="308.16" width="91.50" height="5.82" fill="#8a80c2" stroke="#c8c0ec" stroke-width="0.9"/>
<text x="125" y="312.77" font-size="4.95" text-anchor="end" fill="#222" stroke="#222" stroke-width="0.1">VSIR-HLA E</text>
<line x1="127.5" y1="311.07" x2="130.6" y2="311.07" stroke="#222" stroke-width="0.85"/>
<rect x="130.6" y="313.98" width="82.20" height="5.82" fill="#8a80c2" stroke="#c8c0ec" stroke-width="0.9"/>
<text x="125" y="318.58" font-size="4.95" text-anchor="end" fill="#222" stroke="#222" stroke-width="0.1">VSIR-HLA F</text>
<line x1="127.5" y1="316.88" x2="130.6" y2="316.88" stroke="#222" stroke-width="0.85"/>
<rect x="130.6" y="319.79" width="82.20" height="5.82" fill="#8a80c2" stroke="#c8c0ec" stroke-width="0.9"/>
<text x="125" y="324.40" font-size="4.95" text-anchor="end" fill="#222" stroke="#222" stroke-width="0.1">Desmosterol-byDHCR7-NR1H2</text>
<line x1="127.5" y1="322.70" x2="130.6" y2="322.70" stroke="#222" stroke-width="0.85"/>
<rect x="130.6" y="325.61" width="82.20" height="5.82" fill="#8a80c2" stroke="#c8c0ec" stroke-width="0.9"/>
<text x="125" y="330.22" font-size="4.95" text-anchor="end" fill="#c8102e" stroke="#c8102e" stroke-width="0.1">HLA-G-LILRB1</text>
<line x1="127.5" y1="328.52" x2="130.6" y2="328.52" stroke="#222" stroke-width="0.85"/>
<rect x="130.6" y="331.42" width="82.20" height="5.82" fill="#8a80c2" stroke="#c8c0ec" stroke-width="0.9"/>
<text x="125" y="336.03" font-size="4.95" text-anchor="end" fill="#222" stroke="#222" stroke-width="0.1">TNFSF13-TNFRSF17</text>
<line x1="127.5" y1="334.33" x2="130.6" y2="334.33" stroke="#222" stroke-width="0.85"/>
<rect x="130.6" y="337.24" width="82.20" height="5.82" fill="#8a80c2" stroke="#c8c0ec" stroke-width="0.9"/>
<text x="125" y="341.85" font-size="4.95" text-anchor="end" fill="#222" stroke="#222" stroke-width="0.1">2arachidonoylglycerol-byDAGLA-CNR2</text>
<line x1="127.5" y1="340.15" x2="130.6" y2="340.15" stroke="#222" stroke-width="0.85"/>
<rect x="130.6" y="343.06" width="72.90" height="5.82" fill="#8a80c2" stroke="#c8c0ec" stroke-width="0.9"/>
<text x="125" y="347.66" font-size="4.95" text-anchor="end" fill="#c8102e" stroke="#c8102e" stroke-width="0.1">SPP1-integrin-a4b1-complex</text>
<line x1="127.5" y1="345.96" x2="130.6" y2="345.96" stroke="#222" stroke-width="0.85"/>
<rect x="130.6" y="348.87" width="72.90" height="5.82" fill="#8a80c2" stroke="#c8c0ec" stroke-width="0.9"/>
<text x="125" y="353.48" font-size="4.95" text-anchor="end" fill="#222" stroke="#222" stroke-width="0.1">CD93-IFNGR1</text>
<line x1="127.5" y1="351.78" x2="130.6" y2="351.78" stroke="#222" stroke-width="0.85"/>
<rect x="130.6" y="354.69" width="72.90" height="5.82" fill="#8a80c2" stroke="#c8c0ec" stroke-width="0.9"/>
<text x="125" y="359.30" font-size="4.95" text-anchor="end" fill="#222" stroke="#222" stroke-width="0.1">Adenosine-byNT5E and SLC29A1-ADORA2A</text>
<line x1="127.5" y1="357.60" x2="130.6" y2="357.60" stroke="#222" stroke-width="0.85"/>
<rect x="130.6" y="360.50" width="72.90" height="5.82" fill="#8a80c2" stroke="#c8c0ec" stroke-width="0.9"/>
<text x="125" y="365.11" font-size="4.95" text-anchor="end" fill="#222" stroke="#222" stroke-width="0.1">Adenosine-byNT5E and SLC29A3-ADORA2A</text>
<line x1="127.5" y1="363.41" x2="130.6" y2="363.41" stroke="#222" stroke-width="0.85"/>
<rect x="130.6" y="366.32" width="72.90" height="5.82" fill="#8a80c2" stroke="#c8c0ec" stroke-width="0.9"/>
<text x="125" y="370.93" font-size="4.95" text-anchor="end" fill="#222" stroke="#222" stroke-width="0.1">2arachidonoylglycerol-byDAGLA-CNR1</text>
<line x1="127.5" y1="369.23" x2="130.6" y2="369.23" stroke="#222" stroke-width="0.85"/>
<rect x="130.6" y="372.14" width="72.90" height="5.82" fill="#8a80c2" stroke="#c8c0ec" stroke-width="0.9"/>
<text x="125" y="376.74" font-size="4.95" text-anchor="end" fill="#222" stroke="#222" stroke-width="0.1">2arachidonoylglycerol-byDAGLB-CNR2</text>
<line x1="127.5" y1="375.04" x2="130.6" y2="375.04" stroke="#222" stroke-width="0.85"/>
<rect x="130.6" y="377.95" width="72.90" height="5.82" fill="#8a80c2" stroke="#c8c0ec" stroke-width="0.9"/>
<text x="125" y="382.56" font-size="4.95" text-anchor="end" fill="#c8102e" stroke="#c8102e" stroke-width="0.1">FN1-integrin-a4b1-complex</text>
<line x1="127.5" y1="380.86" x2="130.6" y2="380.86" stroke="#222" stroke-width="0.85"/>
<rect x="130.6" y="383.77" width="72.90" height="5.82" fill="#8a80c2" stroke="#c8c0ec" stroke-width="0.9"/>
<text x="125" y="388.38" font-size="4.95" text-anchor="end" fill="#c8102e" stroke="#c8102e" stroke-width="0.1">TNC-integrin-a4b1-complex</text>
<line x1="127.5" y1="386.68" x2="130.6" y2="386.68" stroke="#222" stroke-width="0.85"/>
<rect x="130.6" y="389.58" width="72.90" height="5.82" fill="#8a80c2" stroke="#c8c0ec" stroke-width="0.9"/>
<text x="125" y="394.19" font-size="4.95" text-anchor="end" fill="#c8102e" stroke="#c8102e" stroke-width="0.1">VCAM1-integrin-a4b1-complex</text>
<line x1="127.5" y1="392.49" x2="130.6" y2="392.49" stroke="#222" stroke-width="0.85"/>
<line x1="130.6" y1="249.0" x2="130.6" y2="395.4" stroke="#1c1a40" stroke-width="1.1"/>
<line x1="130.6" y1="395.4" x2="314.3" y2="395.4" stroke="#111" stroke-width="0.9"/>
<line x1="130.40" y1="395.4" x2="130.40" y2="397.79999999999995" stroke="#111" stroke-width="0.7"/>
<text x="130.40" y="406.3" font-size="5.3" text-anchor="middle" fill="#333" stroke="#333" stroke-width="0.1">0</text>
<line x1="176.50" y1="395.4" x2="176.50" y2="397.79999999999995" stroke="#111" stroke-width="0.7"/>
<text x="176.50" y="406.3" font-size="5.3" text-anchor="middle" fill="#333" stroke="#333" stroke-width="0.1">5</text>
<line x1="222.60" y1="395.4" x2="222.60" y2="397.79999999999995" stroke="#111" stroke-width="0.7"/>
<text x="222.60" y="406.3" font-size="5.3" text-anchor="middle" fill="#333" stroke="#333" stroke-width="0.1">10</text>
<line x1="268.70" y1="395.4" x2="268.70" y2="397.79999999999995" stroke="#111" stroke-width="0.7"/>
<text x="268.70" y="406.3" font-size="5.3" text-anchor="middle" fill="#333" stroke="#333" stroke-width="0.1">15</text>
<text x="222.4" y="243.7" font-size="7.9" text-anchor="middle" fill="#222" stroke="#222" stroke-width="0.1">MSC_Gr.Late to FL</text>
<text transform="translate(222.6 416.7) scale(0.69 1)" font-size="8.1" text-anchor="middle" fill="#1a1a1a" stroke="#1a1a1a" stroke-width="0.28">Number of samples</text>
<text transform="translate(20.5 322) rotate(-90) scale(0.69 1)" font-size="8" text-anchor="middle" fill="#1a1a1a" stroke="#1a1a1a" stroke-width="0.28">Interactions</text>
<text x="387.6" y="29.30" font-size="8.1" text-anchor="middle" fill="#1a1a1a" stroke="#1a1a1a" stroke-width="0.1">SPARC</text>
<line x1="358.8" y1="34.40" x2="358.8" y2="123.2" stroke="#1a1a1a" stroke-width="1.1"/>
<line x1="358.8" y1="123.2" x2="416.8" y2="123.2" stroke="#1a1a1a" stroke-width="1.1"/>
<line x1="356.40000000000003" y1="123.20" x2="358.8" y2="123.20" stroke="#222" stroke-width="0.8"/>
<text x="353.40000000000003" y="125.30" font-size="6.3" text-anchor="end" fill="#2a2a2a" stroke="#2a2a2a" stroke-width="0.1">0</text>
<line x1="356.40000000000003" y1="101.58" x2="358.8" y2="101.58" stroke="#222" stroke-width="0.8"/>
<text x="353.40000000000003" y="103.67" font-size="6.3" text-anchor="end" fill="#2a2a2a" stroke="#2a2a2a" stroke-width="0.1">200</text>
<line x1="356.40000000000003" y1="79.95" x2="358.8" y2="79.95" stroke="#222" stroke-width="0.8"/>
<text x="353.40000000000003" y="82.05" font-size="6.3" text-anchor="end" fill="#2a2a2a" stroke="#2a2a2a" stroke-width="0.1">400</text>
<line x1="356.40000000000003" y1="58.33" x2="358.8" y2="58.33" stroke="#222" stroke-width="0.8"/>
<text x="353.40000000000003" y="60.43" font-size="6.3" text-anchor="end" fill="#2a2a2a" stroke="#2a2a2a" stroke-width="0.1">600</text>
<line x1="356.40000000000003" y1="36.70" x2="358.8" y2="36.70" stroke="#222" stroke-width="0.8"/>
<text x="353.40000000000003" y="38.80" font-size="6.3" text-anchor="end" fill="#2a2a2a" stroke="#2a2a2a" stroke-width="0.1">800</text>
<line x1="375.40" y1="123.2" x2="375.40" y2="125.5" stroke="#222" stroke-width="0.8"/>
<line x1="400.00" y1="123.2" x2="400.00" y2="125.5" stroke="#222" stroke-width="0.8"/>
<text x="375.40" y="134.4" font-size="5.9" text-anchor="middle" fill="#2a2a2a" stroke="#2a2a2a" stroke-width="0.1">Baseline</text>
<text x="400.00" y="134.4" font-size="5.9" text-anchor="middle" fill="#2a2a2a" stroke="#2a2a2a" stroke-width="0.1">M12</text>
<text transform="translate(338.2 78.75) rotate(-90) scale(0.76 1)" font-size="7.4" text-anchor="middle" fill="#1a1a1a" stroke="#1a1a1a" stroke-width="0.25">Concentration (pg/ml)</text>
<line x1="361.40000000000003" y1="111.95" x2="416.8" y2="111.95" stroke="#7cb088" stroke-width="0.9" stroke-dasharray="2.4 1.8"/>
<line x1="375.40" y1="52.92" x2="400.00" y2="96.60" stroke="#1e1e1e" stroke-width="0.8"/>
<line x1="375.40" y1="86.98" x2="400.00" y2="69.25" stroke="#1e1e1e" stroke-width="0.8"/>
<line x1="375.40" y1="90.98" x2="400.00" y2="81.68" stroke="#1e1e1e" stroke-width="0.8"/>
<line x1="375.40" y1="97.47" x2="400.00" y2="105.14" stroke="#1e1e1e" stroke-width="0.8"/>
<line x1="375.40" y1="98.87" x2="400.00" y2="113.14" stroke="#1e1e1e" stroke-width="0.8"/>
<line x1="375.40" y1="102.76" x2="400.00" y2="110.33" stroke="#1e1e1e" stroke-width="0.8"/>
<line x1="375.40" y1="103.74" x2="400.00" y2="114.55" stroke="#1e1e1e" stroke-width="0.8"/>
<line x1="375.40" y1="108.28" x2="400.00" y2="103.74" stroke="#1e1e1e" stroke-width="0.8"/>
<line x1="375.40" y1="109.04" x2="400.00" y2="111.52" stroke="#1e1e1e" stroke-width="0.8"/>
<line x1="375.40" y1="110.77" x2="400.00" y2="116.39" stroke="#1e1e1e" stroke-width="0.8"/>
<line x1="375.40" y1="116.39" x2="400.00" y2="116.71" stroke="#1e1e1e" stroke-width="0.8"/>
<circle cx="375.40" cy="52.92" r="1.1" fill="#2b98c8"/><circle cx="400.00" cy="96.60" r="1.1" fill="#2b98c8"/>
<circle cx="375.40" cy="86.98" r="1.1" fill="#2b98c8"/><circle cx="400.00" cy="69.25" r="1.1" fill="#2b98c8"/>
<circle cx="375.40" cy="90.98" r="1.1" fill="#2b98c8"/><circle cx="400.00" cy="81.68" r="1.1" fill="#2b98c8"/>
<circle cx="375.40" cy="97.47" r="1.1" fill="#2b98c8"/><circle cx="400.00" cy="105.14" r="1.1" fill="#2b98c8"/>
<circle cx="375.40" cy="98.87" r="1.1" fill="#2b98c8"/><circle cx="400.00" cy="113.14" r="1.1" fill="#2b98c8"/>
<circle cx="375.40" cy="102.76" r="1.1" fill="#2b98c8"/><circle cx="400.00" cy="110.33" r="1.1" fill="#2b98c8"/>
<circle cx="375.40" cy="103.74" r="1.1" fill="#2b98c8"/><circle cx="400.00" cy="114.55" r="1.1" fill="#2b98c8"/>
<circle cx="375.40" cy="108.28" r="1.1" fill="#2b98c8"/><circle cx="400.00" cy="103.74" r="1.1" fill="#2b98c8"/>
<circle cx="375.40" cy="109.04" r="1.1" fill="#2b98c8"/><circle cx="400.00" cy="111.52" r="1.1" fill="#2b98c8"/>
<circle cx="375.40" cy="110.77" r="1.1" fill="#2b98c8"/><circle cx="400.00" cy="116.39" r="1.1" fill="#2b98c8"/>
<circle cx="375.40" cy="116.39" r="1.1" fill="#2b98c8"/><circle cx="400.00" cy="116.71" r="1.1" fill="#2b98c8"/>
<path d="M375.40,51.30 V46.50 H400.00 V67.52" fill="none" stroke="#333" stroke-width="0.7"/>
<text x="387.70" y="44.50" font-size="5.4" text-anchor="middle" fill="#2a2a2a" stroke="#2a2a2a" stroke-width="0.1">ns</text>
<text x="484.6" y="29.20" font-size="8.1" text-anchor="middle" fill="#1a1a1a" stroke="#1a1a1a" stroke-width="0.1">FAP</text>
<line x1="455.8" y1="34.70" x2="455.8" y2="123.1" stroke="#1a1a1a" stroke-width="1.1"/>
<line x1="455.8" y1="123.1" x2="513.8" y2="123.1" stroke="#1a1a1a" stroke-width="1.1"/>
<line x1="453.40000000000003" y1="123.10" x2="455.8" y2="123.10" stroke="#222" stroke-width="0.8"/>
<text x="450.40000000000003" y="125.20" font-size="6.3" text-anchor="end" fill="#2a2a2a" stroke="#2a2a2a" stroke-width="0.1">0</text>
<line x1="453.40000000000003" y1="101.57" x2="455.8" y2="101.57" stroke="#222" stroke-width="0.8"/>
<text x="450.40000000000003" y="103.67" font-size="6.3" text-anchor="end" fill="#2a2a2a" stroke="#2a2a2a" stroke-width="0.1">100</text>
<line x1="453.40000000000003" y1="80.05" x2="455.8" y2="80.05" stroke="#222" stroke-width="0.8"/>
<text x="450.40000000000003" y="82.15" font-size="6.3" text-anchor="end" fill="#2a2a2a" stroke="#2a2a2a" stroke-width="0.1">200</text>
<line x1="453.40000000000003" y1="58.52" x2="455.8" y2="58.52" stroke="#222" stroke-width="0.8"/>
<text x="450.40000000000003" y="60.62" font-size="6.3" text-anchor="end" fill="#2a2a2a" stroke="#2a2a2a" stroke-width="0.1">300</text>
<line x1="453.40000000000003" y1="37.00" x2="455.8" y2="37.00" stroke="#222" stroke-width="0.8"/>
<text x="450.40000000000003" y="39.10" font-size="6.3" text-anchor="end" fill="#2a2a2a" stroke="#2a2a2a" stroke-width="0.1">400</text>
<line x1="472.40" y1="123.1" x2="472.40" y2="125.39999999999999" stroke="#222" stroke-width="0.8"/>
<line x1="497.00" y1="123.1" x2="497.00" y2="125.39999999999999" stroke="#222" stroke-width="0.8"/>
<text x="472.40" y="134.29999999999998" font-size="5.9" text-anchor="middle" fill="#2a2a2a" stroke="#2a2a2a" stroke-width="0.1">Baseline</text>
<text x="497.00" y="134.29999999999998" font-size="5.9" text-anchor="middle" fill="#2a2a2a" stroke="#2a2a2a" stroke-width="0.1">M12</text>
<text transform="translate(435.2 78.85) rotate(-90) scale(0.76 1)" font-size="7.4" text-anchor="middle" fill="#1a1a1a" stroke="#1a1a1a" stroke-width="0.25">Concentration (pg/ml)</text>
<line x1="458.40000000000003" y1="116.21" x2="513.8" y2="116.21" stroke="#7cb088" stroke-width="0.9" stroke-dasharray="2.4 1.8"/>
<line x1="472.40" y1="109.32" x2="497.00" y2="60.68" stroke="#1e1e1e" stroke-width="0.8"/>
<line x1="472.40" y1="107.60" x2="497.00" y2="89.52" stroke="#1e1e1e" stroke-width="0.8"/>
<line x1="472.40" y1="111.05" x2="497.00" y2="97.49" stroke="#1e1e1e" stroke-width="0.8"/>
<line x1="472.40" y1="109.32" x2="497.00" y2="99.64" stroke="#1e1e1e" stroke-width="0.8"/>
<line x1="472.40" y1="110.19" x2="497.00" y2="100.93" stroke="#1e1e1e" stroke-width="0.8"/>
<line x1="472.40" y1="113.20" x2="497.00" y2="102.22" stroke="#1e1e1e" stroke-width="0.8"/>
<line x1="472.40" y1="104.59" x2="497.00" y2="103.94" stroke="#1e1e1e" stroke-width="0.8"/>
<line x1="472.40" y1="108.46" x2="497.00" y2="116.43" stroke="#1e1e1e" stroke-width="0.8"/>
<line x1="472.40" y1="103.30" x2="497.00" y2="101.57" stroke="#1e1e1e" stroke-width="0.8"/>
<circle cx="472.40" cy="109.32" r="1.1" fill="#2b98c8"/><circle cx="497.00" cy="60.68" r="1.1" fill="#2b98c8"/>
<circle cx="472.40" cy="107.60" r="1.1" fill="#2b98c8"/><circle cx="497.00" cy="89.52" r="1.1" fill="#2b98c8"/>
<circle cx="472.40" cy="111.05" r="1.1" fill="#2b98c8"/><circle cx="497.00" cy="97.49" r="1.1" fill="#2b98c8"/>
<circle cx="472.40" cy="109.32" r="1.1" fill="#2b98c8"/><circle cx="497.00" cy="99.64" r="1.1" fill="#2b98c8"/>
<circle cx="472.40" cy="110.19" r="1.1" fill="#2b98c8"/><circle cx="497.00" cy="100.93" r="1.1" fill="#2b98c8"/>
<circle cx="472.40" cy="113.20" r="1.1" fill="#2b98c8"/><circle cx="497.00" cy="102.22" r="1.1" fill="#2b98c8"/>
<circle cx="472.40" cy="104.59" r="1.1" fill="#2b98c8"/><circle cx="497.00" cy="103.94" r="1.1" fill="#2b98c8"/>
<circle cx="472.40" cy="108.46" r="1.1" fill="#2b98c8"/><circle cx="497.00" cy="116.43" r="1.1" fill="#2b98c8"/>
<circle cx="472.40" cy="103.30" r="1.1" fill="#2b98c8"/><circle cx="497.00" cy="101.57" r="1.1" fill="#2b98c8"/>
<path d="M472.40,101.57 V55.40 H497.00 V58.52" fill="none" stroke="#333" stroke-width="0.7"/>
<text x="484.70" y="53.40" font-size="5.4" text-anchor="middle" fill="#2a2a2a" stroke="#2a2a2a" stroke-width="0.1">*</text>
<text x="388.0" y="159.30" font-size="8.1" text-anchor="middle" fill="#1a1a1a" stroke="#1a1a1a" stroke-width="0.1">Lumican</text>
<line x1="359.2" y1="164.60" x2="359.2" y2="253.2" stroke="#1a1a1a" stroke-width="1.1"/>
<line x1="359.2" y1="253.2" x2="417.2" y2="253.2" stroke="#1a1a1a" stroke-width="1.1"/>
<line x1="356.8" y1="253.20" x2="359.2" y2="253.20" stroke="#222" stroke-width="0.8"/>
<text x="353.8" y="255.30" font-size="6.3" text-anchor="end" fill="#2a2a2a" stroke="#2a2a2a" stroke-width="0.1">0</text>
<line x1="356.8" y1="231.62" x2="359.2" y2="231.62" stroke="#222" stroke-width="0.8"/>
<text x="353.8" y="233.72" font-size="6.3" text-anchor="end" fill="#2a2a2a" stroke="#2a2a2a" stroke-width="0.1">50</text>
<line x1="356.8" y1="210.05" x2="359.2" y2="210.05" stroke="#222" stroke-width="0.8"/>
<text x="353.8" y="212.15" font-size="6.3" text-anchor="end" fill="#2a2a2a" stroke="#2a2a2a" stroke-width="0.1">100</text>
<line x1="356.8" y1="188.47" x2="359.2" y2="188.47" stroke="#222" stroke-width="0.8"/>
<text x="353.8" y="190.57" font-size="6.3" text-anchor="end" fill="#2a2a2a" stroke="#2a2a2a" stroke-width="0.1">150</text>
<line x1="356.8" y1="166.90" x2="359.2" y2="166.90" stroke="#222" stroke-width="0.8"/>
<text x="353.8" y="169.00" font-size="6.3" text-anchor="end" fill="#2a2a2a" stroke="#2a2a2a" stroke-width="0.1">200</text>
<line x1="375.80" y1="253.2" x2="375.80" y2="255.5" stroke="#222" stroke-width="0.8"/>
<line x1="400.40" y1="253.2" x2="400.40" y2="255.5" stroke="#222" stroke-width="0.8"/>
<text x="375.80" y="264.4" font-size="5.9" text-anchor="middle" fill="#2a2a2a" stroke="#2a2a2a" stroke-width="0.1">Baseline</text>
<text x="400.40" y="264.4" font-size="5.9" text-anchor="middle" fill="#2a2a2a" stroke="#2a2a2a" stroke-width="0.1">M12</text>
<text transform="translate(338.59999999999997 208.85) rotate(-90) scale(0.76 1)" font-size="7.4" text-anchor="middle" fill="#1a1a1a" stroke="#1a1a1a" stroke-width="0.25">Concentration (pg/ml)</text>
<line x1="361.8" y1="224.29" x2="417.2" y2="224.29" stroke="#7cb088" stroke-width="0.9" stroke-dasharray="2.4 1.8"/>
<line x1="375.80" y1="205.30" x2="400.40" y2="191.28" stroke="#1e1e1e" stroke-width="0.8"/>
<line x1="375.80" y1="205.30" x2="400.40" y2="207.03" stroke="#1e1e1e" stroke-width="0.8"/>
<line x1="375.80" y1="206.60" x2="400.40" y2="232.49" stroke="#1e1e1e" stroke-width="0.8"/>
<line x1="375.80" y1="213.07" x2="400.40" y2="196.67" stroke="#1e1e1e" stroke-width="0.8"/>
<line x1="375.80" y1="214.80" x2="400.40" y2="200.99" stroke="#1e1e1e" stroke-width="0.8"/>
<line x1="375.80" y1="216.52" x2="400.40" y2="212.21" stroke="#1e1e1e" stroke-width="0.8"/>
<line x1="375.80" y1="218.25" x2="400.40" y2="214.37" stroke="#1e1e1e" stroke-width="0.8"/>
<line x1="375.80" y1="213.07" x2="400.40" y2="216.95" stroke="#1e1e1e" stroke-width="0.8"/>
<line x1="375.80" y1="220.62" x2="400.40" y2="221.27" stroke="#1e1e1e" stroke-width="0.8"/>
<line x1="375.80" y1="216.52" x2="400.40" y2="214.37" stroke="#1e1e1e" stroke-width="0.8"/>
<circle cx="375.80" cy="205.30" r="1.1" fill="#2b98c8"/><circle cx="400.40" cy="191.28" r="1.1" fill="#2b98c8"/>
<circle cx="375.80" cy="205.30" r="1.1" fill="#2b98c8"/><circle cx="400.40" cy="207.03" r="1.1" fill="#2b98c8"/>
<circle cx="375.80" cy="206.60" r="1.1" fill="#2b98c8"/><circle cx="400.40" cy="232.49" r="1.1" fill="#2b98c8"/>
<circle cx="375.80" cy="213.07" r="1.1" fill="#2b98c8"/><circle cx="400.40" cy="196.67" r="1.1" fill="#2b98c8"/>
<circle cx="375.80" cy="214.80" r="1.1" fill="#2b98c8"/><circle cx="400.40" cy="200.99" r="1.1" fill="#2b98c8"/>
<circle cx="375.80" cy="216.52" r="1.1" fill="#2b98c8"/><circle cx="400.40" cy="212.21" r="1.1" fill="#2b98c8"/>
<circle cx="375.80" cy="218.25" r="1.1" fill="#2b98c8"/><circle cx="400.40" cy="214.37" r="1.1" fill="#2b98c8"/>
<circle cx="375.80" cy="213.07" r="1.1" fill="#2b98c8"/><circle cx="400.40" cy="216.95" r="1.1" fill="#2b98c8"/>
<circle cx="375.80" cy="220.62" r="1.1" fill="#2b98c8"/><circle cx="400.40" cy="221.27" r="1.1" fill="#2b98c8"/>
<circle cx="375.80" cy="216.52" r="1.1" fill="#2b98c8"/><circle cx="400.40" cy="214.37" r="1.1" fill="#2b98c8"/>
<path d="M375.80,204.44 V185.30 H400.40 V190.20" fill="none" stroke="#333" stroke-width="0.7"/>
<text x="388.10" y="183.30" font-size="5.4" text-anchor="middle" fill="#2a2a2a" stroke="#2a2a2a" stroke-width="0.1">ns</text>
<text x="484.6" y="159.30" font-size="8.1" text-anchor="middle" fill="#1a1a1a" stroke="#1a1a1a" stroke-width="0.1">MMP2</text>
<line x1="455.8" y1="164.60" x2="455.8" y2="253.2" stroke="#1a1a1a" stroke-width="1.1"/>
<line x1="455.8" y1="253.2" x2="513.8" y2="253.2" stroke="#1a1a1a" stroke-width="1.1"/>
<line x1="453.40000000000003" y1="253.20" x2="455.8" y2="253.20" stroke="#222" stroke-width="0.8"/>
<text x="450.40000000000003" y="255.30" font-size="6.3" text-anchor="end" fill="#2a2a2a" stroke="#2a2a2a" stroke-width="0.1">0</text>
<line x1="453.40000000000003" y1="231.62" x2="455.8" y2="231.62" stroke="#222" stroke-width="0.8"/>
<text x="450.40000000000003" y="233.72" font-size="6.3" text-anchor="end" fill="#2a2a2a" stroke="#2a2a2a" stroke-width="0.1">100</text>
<line x1="453.40000000000003" y1="210.05" x2="455.8" y2="210.05" stroke="#222" stroke-width="0.8"/>
<text x="450.40000000000003" y="212.15" font-size="6.3" text-anchor="end" fill="#2a2a2a" stroke="#2a2a2a" stroke-width="0.1">200</text>
<line x1="453.40000000000003" y1="188.47" x2="455.8" y2="188.47" stroke="#222" stroke-width="0.8"/>
<text x="450.40000000000003" y="190.57" font-size="6.3" text-anchor="end" fill="#2a2a2a" stroke="#2a2a2a" stroke-width="0.1">300</text>
<line x1="453.40000000000003" y1="166.90" x2="455.8" y2="166.90" stroke="#222" stroke-width="0.8"/>
<text x="450.40000000000003" y="169.00" font-size="6.3" text-anchor="end" fill="#2a2a2a" stroke="#2a2a2a" stroke-width="0.1">400</text>
<line x1="472.40" y1="253.2" x2="472.40" y2="255.5" stroke="#222" stroke-width="0.8"/>
<line x1="497.00" y1="253.2" x2="497.00" y2="255.5" stroke="#222" stroke-width="0.8"/>
<text x="472.40" y="264.4" font-size="5.9" text-anchor="middle" fill="#2a2a2a" stroke="#2a2a2a" stroke-width="0.1">Baseline</text>
<text x="497.00" y="264.4" font-size="5.9" text-anchor="middle" fill="#2a2a2a" stroke="#2a2a2a" stroke-width="0.1">M12</text>
<text transform="translate(435.2 208.85) rotate(-90) scale(0.76 1)" font-size="7.4" text-anchor="middle" fill="#1a1a1a" stroke="#1a1a1a" stroke-width="0.25">Concentration (pg/ml)</text>
<line x1="458.40000000000003" y1="231.41" x2="513.8" y2="231.41" stroke="#7cb088" stroke-width="0.9" stroke-dasharray="2.4 1.8"/>
<line x1="472.40" y1="200.99" x2="497.00" y2="189.99" stroke="#1e1e1e" stroke-width="0.8"/>
<line x1="472.40" y1="208.54" x2="497.00" y2="191.71" stroke="#1e1e1e" stroke-width="0.8"/>
<line x1="472.40" y1="210.48" x2="497.00" y2="204.87" stroke="#1e1e1e" stroke-width="0.8"/>
<line x1="472.40" y1="212.21" x2="497.00" y2="208.11" stroke="#1e1e1e" stroke-width="0.8"/>
<line x1="472.40" y1="213.93" x2="497.00" y2="221.27" stroke="#1e1e1e" stroke-width="0.8"/>
<line x1="472.40" y1="215.66" x2="497.00" y2="229.25" stroke="#1e1e1e" stroke-width="0.8"/>
<line x1="472.40" y1="218.03" x2="497.00" y2="212.85" stroke="#1e1e1e" stroke-width="0.8"/>
<line x1="472.40" y1="224.51" x2="497.00" y2="196.24" stroke="#1e1e1e" stroke-width="0.8"/>
<line x1="472.40" y1="227.74" x2="497.00" y2="189.99" stroke="#1e1e1e" stroke-width="0.8"/>
<line x1="472.40" y1="210.48" x2="497.00" y2="208.11" stroke="#1e1e1e" stroke-width="0.8"/>
<circle cx="472.40" cy="200.99" r="1.1" fill="#2b98c8"/><circle cx="497.00" cy="189.99" r="1.1" fill="#2b98c8"/>
<circle cx="472.40" cy="208.54" r="1.1" fill="#2b98c8"/><circle cx="497.00" cy="191.71" r="1.1" fill="#2b98c8"/>
<circle cx="472.40" cy="210.48" r="1.1" fill="#2b98c8"/><circle cx="497.00" cy="204.87" r="1.1" fill="#2b98c8"/>
<circle cx="472.40" cy="212.21" r="1.1" fill="#2b98c8"/><circle cx="497.00" cy="208.11" r="1.1" fill="#2b98c8"/>
<circle cx="472.40" cy="213.93" r="1.1" fill="#2b98c8"/><circle cx="497.00" cy="221.27" r="1.1" fill="#2b98c8"/>
<circle cx="472.40" cy="215.66" r="1.1" fill="#2b98c8"/><circle cx="497.00" cy="229.25" r="1.1" fill="#2b98c8"/>
<circle cx="472.40" cy="218.03" r="1.1" fill="#2b98c8"/><circle cx="497.00" cy="212.85" r="1.1" fill="#2b98c8"/>
<circle cx="472.40" cy="224.51" r="1.1" fill="#2b98c8"/><circle cx="497.00" cy="196.24" r="1.1" fill="#2b98c8"/>
<circle cx="472.40" cy="227.74" r="1.1" fill="#2b98c8"/><circle cx="497.00" cy="189.99" r="1.1" fill="#2b98c8"/>
<circle cx="472.40" cy="210.48" r="1.1" fill="#2b98c8"/><circle cx="497.00" cy="208.11" r="1.1" fill="#2b98c8"/>
<path d="M472.40,200.13 V184.30 H497.00 V188.69" fill="none" stroke="#333" stroke-width="0.7"/>
<text x="484.70" y="182.30" font-size="5.4" text-anchor="middle" fill="#2a2a2a" stroke="#2a2a2a" stroke-width="0.1">ns</text>
<text x="388.0" y="292.70" font-size="8.1" text-anchor="middle" fill="#1a1a1a" stroke="#1a1a1a" stroke-width="0.1">TIMP1</text>
<line x1="359.2" y1="298.00" x2="359.2" y2="386.6" stroke="#1a1a1a" stroke-width="1.1"/>
<line x1="359.2" y1="386.6" x2="417.2" y2="386.6" stroke="#1a1a1a" stroke-width="1.1"/>
<line x1="356.8" y1="386.60" x2="359.2" y2="386.60" stroke="#222" stroke-width="0.8"/>
<text x="353.8" y="388.70" font-size="6.3" text-anchor="end" fill="#2a2a2a" stroke="#2a2a2a" stroke-width="0.1">0</text>
<line x1="356.8" y1="369.34" x2="359.2" y2="369.34" stroke="#222" stroke-width="0.8"/>
<text x="353.8" y="371.44" font-size="6.3" text-anchor="end" fill="#2a2a2a" stroke="#2a2a2a" stroke-width="0.1">20</text>
<line x1="356.8" y1="352.08" x2="359.2" y2="352.08" stroke="#222" stroke-width="0.8"/>
<text x="353.8" y="354.18" font-size="6.3" text-anchor="end" fill="#2a2a2a" stroke="#2a2a2a" stroke-width="0.1">40</text>
<line x1="356.8" y1="334.82" x2="359.2" y2="334.82" stroke="#222" stroke-width="0.8"/>
<text x="353.8" y="336.92" font-size="6.3" text-anchor="end" fill="#2a2a2a" stroke="#2a2a2a" stroke-width="0.1">60</text>
<line x1="356.8" y1="317.56" x2="359.2" y2="317.56" stroke="#222" stroke-width="0.8"/>
<text x="353.8" y="319.66" font-size="6.3" text-anchor="end" fill="#2a2a2a" stroke="#2a2a2a" stroke-width="0.1">80</text>
<line x1="356.8" y1="300.30" x2="359.2" y2="300.30" stroke="#222" stroke-width="0.8"/>
<text x="353.8" y="302.40" font-size="6.3" text-anchor="end" fill="#2a2a2a" stroke="#2a2a2a" stroke-width="0.1">100</text>
<line x1="375.80" y1="386.6" x2="375.80" y2="388.90000000000003" stroke="#222" stroke-width="0.8"/>
<line x1="400.40" y1="386.6" x2="400.40" y2="388.90000000000003" stroke="#222" stroke-width="0.8"/>
<text x="375.80" y="397.8" font-size="5.9" text-anchor="middle" fill="#2a2a2a" stroke="#2a2a2a" stroke-width="0.1">Baseline</text>
<text x="400.40" y="397.8" font-size="5.9" text-anchor="middle" fill="#2a2a2a" stroke="#2a2a2a" stroke-width="0.1">M12</text>
<text transform="translate(338.59999999999997 342.25) rotate(-90) scale(0.76 1)" font-size="7.4" text-anchor="middle" fill="#1a1a1a" stroke="#1a1a1a" stroke-width="0.25">Concentration (pg/ml)</text>
<line x1="361.8" y1="372.79" x2="417.2" y2="372.79" stroke="#7cb088" stroke-width="0.9" stroke-dasharray="2.4 1.8"/>
<line x1="375.80" y1="321.10" x2="400.40" y2="343.19" stroke="#1e1e1e" stroke-width="0.8"/>
<line x1="375.80" y1="324.46" x2="400.40" y2="347.42" stroke="#1e1e1e" stroke-width="0.8"/>
<line x1="375.80" y1="325.67" x2="400.40" y2="369.17" stroke="#1e1e1e" stroke-width="0.8"/>
<line x1="375.80" y1="338.70" x2="400.40" y2="320.84" stroke="#1e1e1e" stroke-width="0.8"/>
<line x1="375.80" y1="346.82" x2="400.40" y2="364.16" stroke="#1e1e1e" stroke-width="0.8"/>
<line x1="375.80" y1="353.20" x2="400.40" y2="351.91" stroke="#1e1e1e" stroke-width="0.8"/>
<line x1="375.80" y1="353.20" x2="400.40" y2="357.43" stroke="#1e1e1e" stroke-width="0.8"/>
<line x1="375.80" y1="366.92" x2="400.40" y2="356.22" stroke="#1e1e1e" stroke-width="0.8"/>
<line x1="375.80" y1="369.17" x2="400.40" y2="351.91" stroke="#1e1e1e" stroke-width="0.8"/>
<line x1="375.80" y1="371.50" x2="400.40" y2="364.16" stroke="#1e1e1e" stroke-width="0.8"/>
<line x1="375.80" y1="373.83" x2="400.40" y2="373.83" stroke="#1e1e1e" stroke-width="0.8"/>
<circle cx="375.80" cy="321.10" r="1.1" fill="#2b98c8"/><circle cx="400.40" cy="343.19" r="1.1" fill="#2b98c8"/>
<circle cx="375.80" cy="324.46" r="1.1" fill="#2b98c8"/><circle cx="400.40" cy="347.42" r="1.1" fill="#2b98c8"/>
<circle cx="375.80" cy="325.67" r="1.1" fill="#2b98c8"/><circle cx="400.40" cy="369.17" r="1.1" fill="#2b98c8"/>
<circle cx="375.80" cy="338.70" r="1.1" fill="#2b98c8"/><circle cx="400.40" cy="320.84" r="1.1" fill="#2b98c8"/>
<circle cx="375.80" cy="346.82" r="1.1" fill="#2b98c8"/><circle cx="400.40" cy="364.16" r="1.1" fill="#2b98c8"/>
<circle cx="375.80" cy="353.20" r="1.1" fill="#2b98c8"/><circle cx="400.40" cy="351.91" r="1.1" fill="#2b98c8"/>
<circle cx="375.80" cy="353.20" r="1.1" fill="#2b98c8"/><circle cx="400.40" cy="357.43" r="1.1" fill="#2b98c8"/>
<circle cx="375.80" cy="366.92" r="1.1" fill="#2b98c8"/><circle cx="400.40" cy="356.22" r="1.1" fill="#2b98c8"/>
<circle cx="375.80" cy="369.17" r="1.1" fill="#2b98c8"/><circle cx="400.40" cy="351.91" r="1.1" fill="#2b98c8"/>
<circle cx="375.80" cy="371.50" r="1.1" fill="#2b98c8"/><circle cx="400.40" cy="364.16" r="1.1" fill="#2b98c8"/>
<circle cx="375.80" cy="373.83" r="1.1" fill="#2b98c8"/><circle cx="400.40" cy="373.83" r="1.1" fill="#2b98c8"/>
<path d="M375.80,317.56 V315.00 H400.40 V317.56" fill="none" stroke="#333" stroke-width="0.7"/>
<text x="388.10" y="313.00" font-size="5.4" text-anchor="middle" fill="#2a2a2a" stroke="#2a2a2a" stroke-width="0.1">ns</text>
<text x="484.6" y="292.50" font-size="8.1" text-anchor="middle" fill="#1a1a1a" stroke="#1a1a1a" stroke-width="0.1">TGFβ1</text>
<line x1="455.8" y1="297.90" x2="455.8" y2="386.4" stroke="#1a1a1a" stroke-width="1.1"/>
<line x1="455.8" y1="386.4" x2="513.8" y2="386.4" stroke="#1a1a1a" stroke-width="1.1"/>
<line x1="453.40000000000003" y1="386.40" x2="455.8" y2="386.40" stroke="#222" stroke-width="0.8"/>
<text x="450.40000000000003" y="388.50" font-size="6.3" text-anchor="end" fill="#2a2a2a" stroke="#2a2a2a" stroke-width="0.1">0</text>
<line x1="453.40000000000003" y1="369.16" x2="455.8" y2="369.16" stroke="#222" stroke-width="0.8"/>
<text x="450.40000000000003" y="371.26" font-size="6.3" text-anchor="end" fill="#2a2a2a" stroke="#2a2a2a" stroke-width="0.1">50</text>
<line x1="453.40000000000003" y1="351.92" x2="455.8" y2="351.92" stroke="#222" stroke-width="0.8"/>
<text x="450.40000000000003" y="354.02" font-size="6.3" text-anchor="end" fill="#2a2a2a" stroke="#2a2a2a" stroke-width="0.1">100</text>
<line x1="453.40000000000003" y1="334.68" x2="455.8" y2="334.68" stroke="#222" stroke-width="0.8"/>
<text x="450.40000000000003" y="336.78" font-size="6.3" text-anchor="end" fill="#2a2a2a" stroke="#2a2a2a" stroke-width="0.1">150</text>
<line x1="453.40000000000003" y1="317.44" x2="455.8" y2="317.44" stroke="#222" stroke-width="0.8"/>
<text x="450.40000000000003" y="319.54" font-size="6.3" text-anchor="end" fill="#2a2a2a" stroke="#2a2a2a" stroke-width="0.1">200</text>
<line x1="453.40000000000003" y1="300.20" x2="455.8" y2="300.20" stroke="#222" stroke-width="0.8"/>
<text x="450.40000000000003" y="302.30" font-size="6.3" text-anchor="end" fill="#2a2a2a" stroke="#2a2a2a" stroke-width="0.1">250</text>
<line x1="472.40" y1="386.4" x2="472.40" y2="388.7" stroke="#222" stroke-width="0.8"/>
<line x1="497.00" y1="386.4" x2="497.00" y2="388.7" stroke="#222" stroke-width="0.8"/>
<text x="472.40" y="397.59999999999997" font-size="5.9" text-anchor="middle" fill="#2a2a2a" stroke="#2a2a2a" stroke-width="0.1">Baseline</text>
<text x="497.00" y="397.59999999999997" font-size="5.9" text-anchor="middle" fill="#2a2a2a" stroke="#2a2a2a" stroke-width="0.1">M12</text>
<text transform="translate(435.2 342.10) rotate(-90) scale(0.76 1)" font-size="7.4" text-anchor="middle" fill="#1a1a1a" stroke="#1a1a1a" stroke-width="0.25">Concentration (pg/ml)</text>
<line x1="458.40000000000003" y1="375.37" x2="513.8" y2="375.37" stroke="#7cb088" stroke-width="0.9" stroke-dasharray="2.4 1.8"/>
<line x1="472.40" y1="306.06" x2="497.00" y2="325.37" stroke="#1e1e1e" stroke-width="0.8"/>
<line x1="472.40" y1="317.78" x2="497.00" y2="331.58" stroke="#1e1e1e" stroke-width="0.8"/>
<line x1="472.40" y1="319.16" x2="497.00" y2="333.99" stroke="#1e1e1e" stroke-width="0.8"/>
<line x1="472.40" y1="323.99" x2="497.00" y2="338.47" stroke="#1e1e1e" stroke-width="0.8"/>
<line x1="472.40" y1="336.06" x2="497.00" y2="338.47" stroke="#1e1e1e" stroke-width="0.8"/>
<line x1="472.40" y1="338.47" x2="497.00" y2="339.85" stroke="#1e1e1e" stroke-width="0.8"/>
<line x1="472.40" y1="342.96" x2="497.00" y2="369.50" stroke="#1e1e1e" stroke-width="0.8"/>
<line x1="472.40" y1="353.99" x2="497.00" y2="359.16" stroke="#1e1e1e" stroke-width="0.8"/>
<line x1="472.40" y1="356.06" x2="497.00" y2="366.75" stroke="#1e1e1e" stroke-width="0.8"/>
<line x1="472.40" y1="359.16" x2="497.00" y2="360.54" stroke="#1e1e1e" stroke-width="0.8"/>
<line x1="472.40" y1="362.61" x2="497.00" y2="364.68" stroke="#1e1e1e" stroke-width="0.8"/>
<line x1="472.40" y1="365.37" x2="497.00" y2="372.95" stroke="#1e1e1e" stroke-width="0.8"/>
<line x1="472.40" y1="353.99" x2="497.00" y2="360.54" stroke="#1e1e1e" stroke-width="0.8"/>
<circle cx="472.40" cy="306.06" r="1.1" fill="#2b98c8"/><circle cx="497.00" cy="325.37" r="1.1" fill="#2b98c8"/>
<circle cx="472.40" cy="317.78" r="1.1" fill="#2b98c8"/><circle cx="497.00" cy="331.58" r="1.1" fill="#2b98c8"/>
<circle cx="472.40" cy="319.16" r="1.1" fill="#2b98c8"/><circle cx="497.00" cy="333.99" r="1.1" fill="#2b98c8"/>
<circle cx="472.40" cy="323.99" r="1.1" fill="#2b98c8"/><circle cx="497.00" cy="338.47" r="1.1" fill="#2b98c8"/>
<circle cx="472.40" cy="336.06" r="1.1" fill="#2b98c8"/><circle cx="497.00" cy="338.47" r="1.1" fill="#2b98c8"/>
<circle cx="472.40" cy="338.47" r="1.1" fill="#2b98c8"/><circle cx="497.00" cy="339.85" r="1.1" fill="#2b98c8"/>
<circle cx="472.40" cy="342.96" r="1.1" fill="#2b98c8"/><circle cx="497.00" cy="369.50" r="1.1" fill="#2b98c8"/>
<circle cx="472.40" cy="353.99" r="1.1" fill="#2b98c8"/><circle cx="497.00" cy="359.16" r="1.1" fill="#2b98c8"/>
<circle cx="472.40" cy="356.06" r="1.1" fill="#2b98c8"/><circle cx="497.00" cy="366.75" r="1.1" fill="#2b98c8"/>
<circle cx="472.40" cy="359.16" r="1.1" fill="#2b98c8"/><circle cx="497.00" cy="360.54" r="1.1" fill="#2b98c8"/>
<circle cx="472.40" cy="362.61" r="1.1" fill="#2b98c8"/><circle cx="497.00" cy="364.68" r="1.1" fill="#2b98c8"/>
<circle cx="472.40" cy="365.37" r="1.1" fill="#2b98c8"/><circle cx="497.00" cy="372.95" r="1.1" fill="#2b98c8"/>
<circle cx="472.40" cy="353.99" r="1.1" fill="#2b98c8"/><circle cx="497.00" cy="360.54" r="1.1" fill="#2b98c8"/>
<path d="M472.40,302.96 V300.50 H497.00 V323.65" fill="none" stroke="#333" stroke-width="0.7"/>
<text x="484.70" y="298.50" font-size="5.4" text-anchor="middle" fill="#2a2a2a" stroke="#2a2a2a" stroke-width="0.1">**</text>
<rect x="0" y="0" width="520" height="1" fill="#555"/><rect x="0" y="0" width="1.1" height="426" fill="#5a5a5a"/>
<rect x="518.8" y="0" width="1.2" height="426" fill="#5a5a5a"/><rect x="0" y="424.6" width="520" height="1.4" fill="#4a4a4a"/>
</svg></div></body></html>
